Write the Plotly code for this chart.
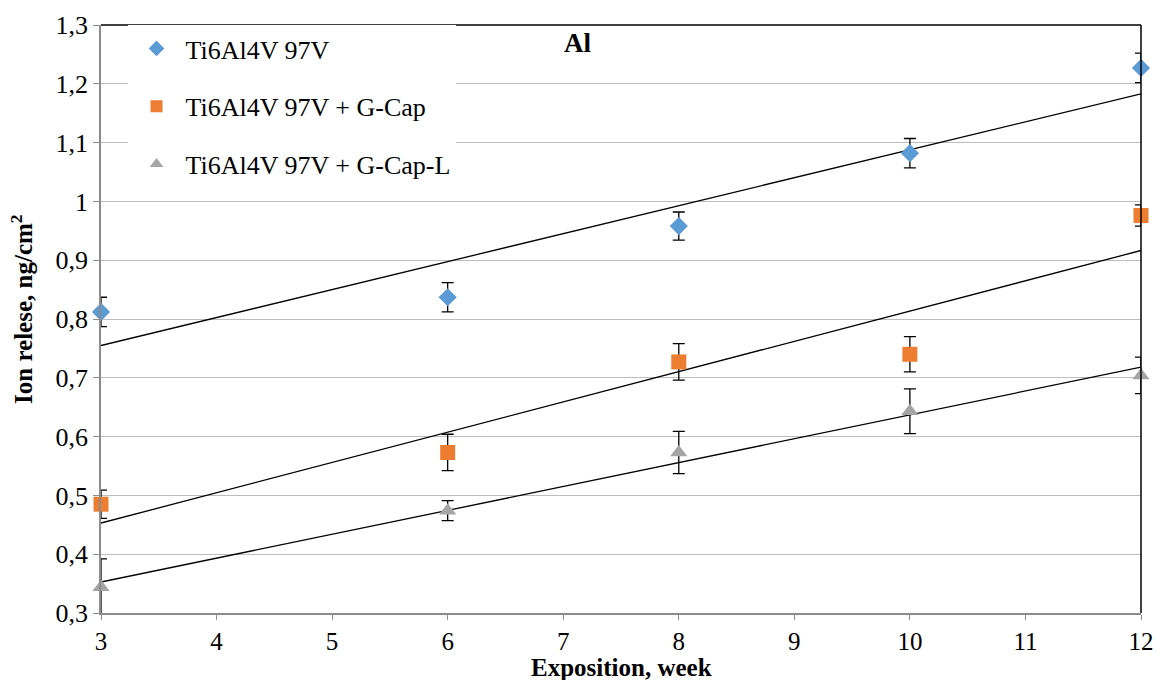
import numpy as np
import plotly.graph_objects as go

weeks = [3, 6, 8, 10, 12]
series_names = ["Ti6Al4V 97V", "Ti6Al4V 97V + G-Cap", "Ti6Al4V 97V + G-Cap-L"]
vals_97v = [0.812, 0.837, 0.958, 1.082, 1.227]
err_97v = [0.025, 0.025, 0.024, 0.025, 0.025]
vals_gcap = [0.485, 0.573, 0.727, 0.740, 0.976]
err_gcap = [0.024, 0.031, 0.031, 0.030, 0.018]
vals_gcapl = [0.344, 0.474, 0.573, 0.643, 0.704]
err_gcapl = [0.048, 0.017, 0.036, 0.038, 0.031]

y_tickvals = [0.3, 0.4, 0.5, 0.6, 0.7, 0.8, 0.9, 1.0, 1.1, 1.2, 1.3]
y_ticktext = ["0,3", "0,4", "0,5", "0,6", "0,7", "0,8", "0,9", "1", "1,1", "1,2", "1,3"]
x_tickvals = [3, 4, 5, 6, 7, 8, 9, 10, 11, 12]

colors = ["#5B9BD5", "#ED7D31", "#A5A5A5"]
symbols = ["diamond", "square", "triangle-up"]
sizes = [14, 15, 15]
all_vals = [vals_97v, vals_gcap, vals_gcapl]
all_errs = [err_97v, err_gcap, err_gcapl]

FONT = "Liberation Serif"
fig = go.Figure()

# linear trendlines (least squares fit of each series)
xfit = np.array([weeks[0], weeks[-1]], dtype=float)
for vals in all_vals:
    k, b = np.polyfit(weeks, vals, 1)
    fig.add_trace(go.Scatter(x=xfit, y=k * xfit + b, mode="lines",
                             line=dict(color="black", width=1.3),
                             showlegend=False, hoverinfo="skip"))

for i, (name, vals, errs) in enumerate(zip(series_names, all_vals, all_errs)):
    fig.add_trace(go.Scatter(
        x=weeks, y=vals, mode="markers", name=name,
        legendgroup=f"g{i}",
        marker=dict(symbol=symbols[i], size=sizes[i], color=colors[i]),
        error_y=dict(type="data", array=errs, visible=True,
                     color="black", thickness=1.3, width=6),
        cliponaxis=False,
    ))

fig.update_layout(
    width=1156, height=680,
    margin=dict(l=101, r=15, t=25, b=67),
    paper_bgcolor="white", plot_bgcolor="white",
    font=dict(family=FONT, color="black", size=25),
    showlegend=True,
    legend=dict(x=0.0255, y=1.0, xanchor="left", yanchor="top",
                bgcolor="white", borderwidth=0,
                traceorder="grouped", tracegroupgap=21,
                itemwidth=48,
                font=dict(family=FONT, size=26, color="black"),
                itemsizing="constant"),
    annotations=[
        dict(text="<b>Al</b>", x=0.458, y=0.998, xref="paper", yref="paper",
             xanchor="center", yanchor="top", showarrow=False,
             font=dict(family=FONT, size=27, color="black")),
        dict(text="<b>Exposition, week</b>", x=0.5, y=-0.093, xref="paper", yref="paper",
             xanchor="center", yanchor="middle", showarrow=False,
             font=dict(family=FONT, size=25, color="black")),
        dict(text="<b>Ion relese, ng/cm<sup>2</sup></b>", x=-0.076, y=0.517,
             xref="paper", yref="paper", textangle=-90,
             xanchor="center", yanchor="middle", showarrow=False,
             font=dict(family=FONT, size=25, color="black")),
    ],
    shapes=[
        dict(type="line", xref="paper", yref="paper", x0=0, x1=1, y0=1, y1=1,
             line=dict(color="black", width=1.5)),
        dict(type="line", xref="paper", yref="paper", x0=1, x1=1, y0=0, y1=1,
             line=dict(color="black", width=1.5)),
    ],
)

fig.update_xaxes(
    range=[3, 12], tickvals=x_tickvals, ticks="outside", ticklen=5,
    tickcolor="#8c8c8c", showline=True, linecolor="#8c8c8c", linewidth=1.5,
    showgrid=False, zeroline=False, automargin=False,
    ticklabeloverflow="allow",
    tickfont=dict(family=FONT, size=25, color="black"),
)
fig.update_yaxes(
    range=[0.3, 1.3], tickvals=y_tickvals, ticktext=y_ticktext,
    ticks="outside", ticklen=6, tickcolor="#8c8c8c",
    showline=True, linecolor="#8c8c8c", linewidth=1.5,
    showgrid=True, gridcolor="#bdbdbd", gridwidth=1.3, zeroline=False,
    automargin=False,
    tickfont=dict(family=FONT, size=26, color="black"),
)

fig.write_html("out.html", config={"displayModeBar": False},
               post_script="document.body.style.margin='0';document.body.style.overflow='hidden';")
